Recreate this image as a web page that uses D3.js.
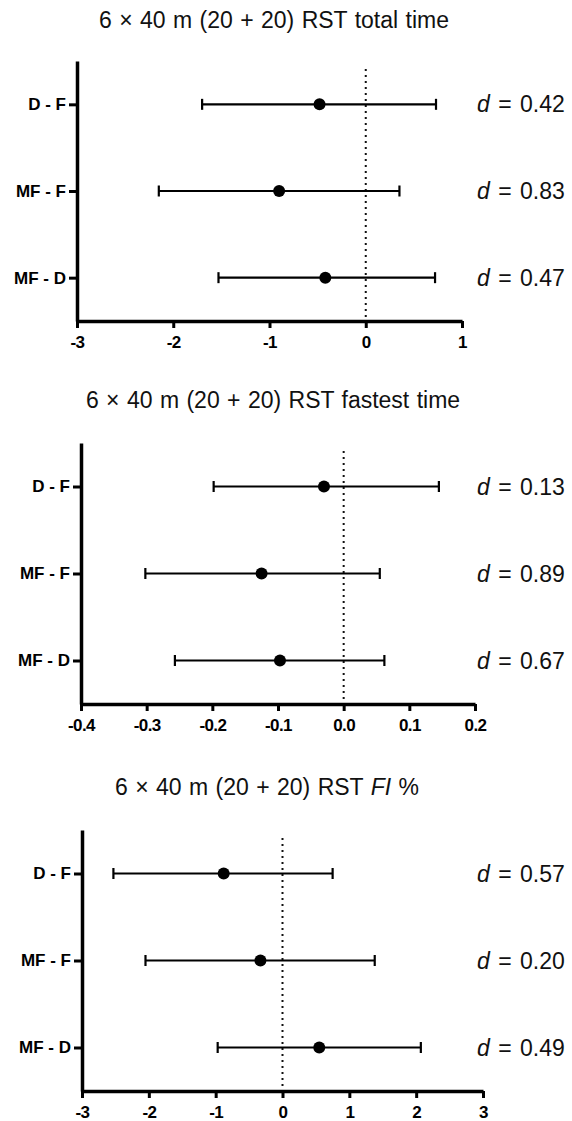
<!DOCTYPE html>
<html>
<head>
<meta charset="utf-8">
<script src="https://cdn.jsdelivr.net/npm/d3@7"></script>
<style>
  html, body { margin: 0; padding: 0; background: #fff; }
  svg { display: block; }
</style>
</head>
<body>
<svg id="chart" width="572" height="1121"></svg>
<script>
// Pairwise comparisons shown on every panel
const comparisons = ["D - F", "MF - F", "MF - D"];

// Panel 1: total time — mean difference with 95% CI, effect size
const totalMean = [-0.48, -0.90, -0.42];
const totalLow  = [-1.70, -2.15, -1.53];
const totalHigh = [0.73, 0.35, 0.72];
const totalD    = ["0.42", "0.83", "0.47"];
const totalTicks = [-3, -2, -1, 0, 1];

// Panel 2: fastest time
const fastMean = [-0.030, -0.125, -0.097];
const fastLow  = [-0.198, -0.302, -0.257];
const fastHigh = [0.145, 0.055, 0.062];
const fastD    = ["0.13", "0.89", "0.67"];
const fastTicks = [-0.4, -0.3, -0.2, -0.1, 0.0, 0.1, 0.2];

// Panel 3: fatigue index %
const fiMean = [-0.88, -0.33, 0.55];
const fiLow  = [-2.53, -2.05, -0.97];
const fiHigh = [0.75, 1.38, 2.07];
const fiD    = ["0.57", "0.20", "0.49"];
const fiTicks = [-3, -2, -1, 0, 1, 2, 3];

const panels = [
  { title: [["6 \u00D7 40 m (20 + 20) RST total time", false]], titleX: 274, titleY: 28,
    x0: 77, x1: 462, top: 61, bottom: 321,
    mean: totalMean, low: totalLow, high: totalHigh, d: totalD, ticks: totalTicks, fmt: d3.format("d") },
  { title: [["6 \u00D7 40 m (20 + 20) RST fastest time", false]], titleX: 273, titleY: 408,
    x0: 81, x1: 475, top: 443, bottom: 704,
    mean: fastMean, low: fastLow, high: fastHigh, d: fastD, ticks: fastTicks, fmt: d3.format(".1f") },
  { title: [["6 \u00D7 40 m (20 + 20) RST ", false], ["FI", true], [" %", false]], titleX: 267, titleY: 795,
    x0: 82, x1: 483, top: 830, bottom: 1091,
    mean: fiMean, low: fiLow, high: fiHigh, d: fiD, ticks: fiTicks, fmt: d3.format("d") }
];

const svg = d3.select("#chart");
const FONT = "'Liberation Sans', Arial, sans-serif";

panels.forEach(p => {
  const dom = d3.extent(p.ticks);
  const x = d3.scaleLinear().domain(dom).range([p.x0, p.x1]);
  const y = d3.scalePoint().domain(comparisons).range([p.top, p.bottom]).padding(0.5);
  const fmt = v => p.fmt(v).replace("\u2212", "-");

  const g = svg.append("g");

  // title
  const t = g.append("text")
    .attr("x", p.titleX).attr("y", p.titleY)
    .attr("text-anchor", "middle")
    .style("font-family", FONT).style("font-size", "23px")
    .style("word-spacing", "1px").attr("fill", "#111");
  p.title.forEach(([s, it]) => t.append("tspan").text(s).style("font-style", it ? "italic" : "normal"));

  // zero reference line
  g.append("line")
    .attr("x1", x(0)).attr("x2", x(0))
    .attr("y1", p.top + 8).attr("y2", p.bottom)
    .attr("stroke", "#111").attr("stroke-width", 2)
    .attr("stroke-dasharray", "2,4");

  // x axis
  const xa = g.append("g").attr("transform", `translate(0,${p.bottom})`)
    .call(d3.axisBottom(x).tickValues(p.ticks).tickFormat(fmt).tickSize(7).tickSizeOuter(0));
  xa.select(".domain").attr("stroke", "#000").attr("stroke-width", 3.5);
  xa.selectAll(".tick line").attr("stroke", "#000").attr("stroke-width", 3);
  xa.selectAll(".tick text").attr("y", 27).attr("dy", null)
    .style("font-family", FONT).style("font-size", "17px")
    .style("font-weight", "bold").style("letter-spacing", "-0.6px").attr("fill", "#000");

  // y axis
  const ya = g.append("g").attr("transform", `translate(${p.x0},0)`)
    .call(d3.axisLeft(y).tickSize(8).tickSizeOuter(0).tickPadding(3));
  ya.select(".domain").attr("stroke", "#000").attr("stroke-width", 3.5);
  ya.selectAll(".tick line").attr("stroke", "#000").attr("stroke-width", 3);
  ya.selectAll(".tick text").style("font-family", FONT).style("font-size", "17px")
    .style("font-weight", "bold").attr("fill", "#000");

  const rows = comparisons.map((c, i) => ({ c, m: p.mean[i], lo: p.low[i], hi: p.high[i], d: p.d[i] }));

  // confidence interval bars
  const bars = g.selectAll(".ci").data(rows).enter().append("g");
  bars.append("line")
    .attr("x1", r => x(r.lo)).attr("x2", r => x(r.hi))
    .attr("y1", r => y(r.c)).attr("y2", r => y(r.c))
    .attr("stroke", "#000").attr("stroke-width", 2.2);
  ["lo", "hi"].forEach(k => bars.append("line")
    .attr("x1", r => x(r[k])).attr("x2", r => x(r[k]))
    .attr("y1", r => y(r.c) - 5.5).attr("y2", r => y(r.c) + 5.5)
    .attr("stroke", "#000").attr("stroke-width", 2.2));
  bars.append("circle")
    .attr("cx", r => x(r.m)).attr("cy", r => y(r.c)).attr("r", 6)
    .attr("fill", "#000");

  // effect sizes
  const dl = g.selectAll(".dl").data(rows).enter().append("text")
    .attr("x", 477).attr("y", r => y(r.c) + 8)
    .style("font-family", FONT).style("font-size", "23px")
    .style("word-spacing", "2px").attr("fill", "#111");
  dl.append("tspan").text("d").style("font-style", "italic");
  dl.append("tspan").text(r => " = " + r.d);
});
</script>
</body>
</html>
